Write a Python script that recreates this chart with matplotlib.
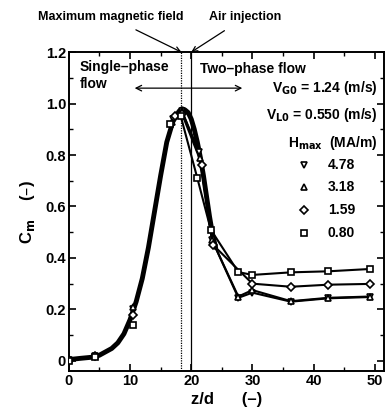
import numpy as np
import matplotlib
matplotlib.use('Agg')
import matplotlib.pyplot as plt
from matplotlib.ticker import MultipleLocator

plt.rcParams['font.family'] = ['Liberation Sans', 'DejaVu Sans']
plt.rcParams['font.weight'] = 'bold'

# common branch (all field strengths overlap here)
z_rise = [0, 2, 4.2, 5, 6, 7, 8, 9, 10, 11, 12, 13, 14, 15, 16, 17, 18, 18.5,
          19, 19.5, 20, 20.5, 21, 21.5, 22, 22.5, 23, 23.5, 24]
cm_rise = [0.005, 0.01, 0.015, 0.022, 0.035, 0.048, 0.07, 0.105, 0.16, 0.23, 0.32, 0.44,
           0.58, 0.72, 0.85, 0.93, 0.97, 0.98,
           0.975, 0.965, 0.94, 0.90, 0.85, 0.79, 0.72, 0.64, 0.56, 0.49, 0.44]

# measured points for each maximum field strength
H_max = ['4.78', '3.18', '1.59', '0.80']
markers = ['v', '^', 'D', 's']
msizes = [4.5, 4.5, 4, 4.5]

z_pts = {
    '4.78': [0, 4.2, 10.5, 17.0, 18.5, 21.3, 23.4, 27.7, 30.0, 36.3, 42.4, 49.2],
    '3.18': [0, 4.2, 10.5, 16.8, 18.5, 21.5, 23.4, 27.7, 30.0, 36.3, 42.4, 49.2],
    '1.59': [0, 4.2, 10.5, 17.3, 18.5, 21.8, 23.6, 30.0, 36.3, 42.4, 49.2],
    '0.80': [0, 4.2, 10.5, 16.6, 18.3, 21.0, 23.2, 27.7, 30.0, 36.3, 42.4, 49.2],
}
cm_pts = {
    '4.78': [0.005, 0.02, 0.20, 0.94, 0.97, 0.81, 0.47, 0.245, 0.265, 0.23, 0.243, 0.248],
    '3.18': [0.005, 0.02, 0.21, 0.93, 0.97, 0.79, 0.47, 0.25, 0.275, 0.232, 0.245, 0.25],
    '1.59': [0.005, 0.02, 0.18, 0.95, 0.96, 0.76, 0.45, 0.30, 0.288, 0.296, 0.299],
    '0.80': [0.0, 0.015, 0.14, 0.92, 0.95, 0.71, 0.51, 0.345, 0.334, 0.344, 0.348, 0.357],
}

z_field = 18.4   # maximum magnetic field position
z_air = 20.0     # air injection position

fig = plt.figure(figsize=(3.87, 4.17), dpi=100)
ax = fig.add_axes([0.178, 0.110, 0.814, 0.765])

ax.plot(z_rise, cm_rise, color='black', lw=3.5, solid_capstyle='round',
        solid_joinstyle='round', zorder=3)
for h, m, ms in zip(H_max, markers, msizes):
    z = np.array(z_pts[h])
    c = np.array(cm_pts[h])
    after = z >= 18
    # separate thin line only past the peak, where the curves split
    ax.plot(z[after], c[after], color='black', lw=1.5, zorder=4)
    ax.plot(z, c, ls='none', marker=m, ms=ms,
            mfc='white', mec='black', mew=1.2, zorder=5)

ax.axvline(z_field, color='black', lw=0.9, ls=(0, (1, 1)))
ax.axvline(z_air, color='black', lw=0.9)

ax.set_xlim(0, 51.5)
ax.set_ylim(-0.04, 1.2)
ax.xaxis.set_major_locator(MultipleLocator(10))
ax.xaxis.set_minor_locator(MultipleLocator(5))
ax.yaxis.set_major_locator(MultipleLocator(0.2))
ax.yaxis.set_minor_locator(MultipleLocator(0.1))
ax.set_yticks([0, 0.2, 0.4, 0.6, 0.8, 1.0, 1.2])
ax.set_yticklabels(['0', '0.2', '0.4', '0.6', '0.8', '1.0', '1.2'])
ax.tick_params(which='both', direction='in', top=True, right=True, labelsize=10.5, pad=2)
ax.tick_params(which='major', length=5, width=1.2)
ax.tick_params(which='minor', length=3, width=1.0)
for lab in ax.get_xticklabels() + ax.get_yticklabels():
    lab.set_fontweight('bold')
for sp in ax.spines.values():
    sp.set_linewidth(1.4)

ax.set_xlabel('z/d      (–)', fontsize=12, fontweight='bold', labelpad=3)
ax.set_ylabel('C$_\\mathbf{m}$    (–)', fontsize=12, fontweight='bold', labelpad=6)

# flow regime annotations
ax.text(1.8, 1.11, 'Single–phase\nflow', fontsize=10, fontweight='bold', va='center', linespacing=1.3)
ax.text(21.5, 1.135, 'Two–phase flow', fontsize=10, fontweight='bold', va='center')
ax.annotate('', xy=(10.3, 1.06), xytext=(28.8, 1.06),
            arrowprops=dict(arrowstyle='<->', color='black', lw=0.9))
ax.text(50.5, 1.06, 'V$_\\mathbf{G0}$ = 1.24 (m/s)', fontsize=10, fontweight='bold', ha='right', va='center')
ax.text(50.5, 0.955, 'V$_\\mathbf{L0}$ = 0.550 (m/s)', fontsize=10, fontweight='bold', ha='right', va='center')
ax.text(50.5, 0.845, 'H$_\\mathbf{max}$  (MA/m)', fontsize=10, fontweight='bold', ha='right', va='center')

leg_y = [0.76, 0.675, 0.585, 0.495]
for h, m, ms, y in zip(H_max, markers, msizes, leg_y):
    ax.plot([38.5], [y], marker=m, ms=ms, mfc='white', mec='black', mew=1.2, ls='none')
    ax.text(42.3, y, h, fontsize=10, fontweight='bold', va='center')

# labels above the plot with arrows to the two positions
ax.annotate('Maximum magnetic field', xy=(z_field, 1.2), xytext=(6.8, 1.335),
            xycoords='data', textcoords='data', ha='center', va='center',
            fontsize=9, fontweight='bold', annotation_clip=False,
            arrowprops=dict(arrowstyle='->', color='black', lw=0.9, shrinkA=6, shrinkB=0))
ax.annotate('Air injection', xy=(z_air, 1.2), xytext=(28.8, 1.335),
            xycoords='data', textcoords='data', ha='center', va='center',
            fontsize=9, fontweight='bold', annotation_clip=False,
            arrowprops=dict(arrowstyle='->', color='black', lw=0.9, shrinkA=6, shrinkB=0))

fig.savefig('out.png', dpi=100)
